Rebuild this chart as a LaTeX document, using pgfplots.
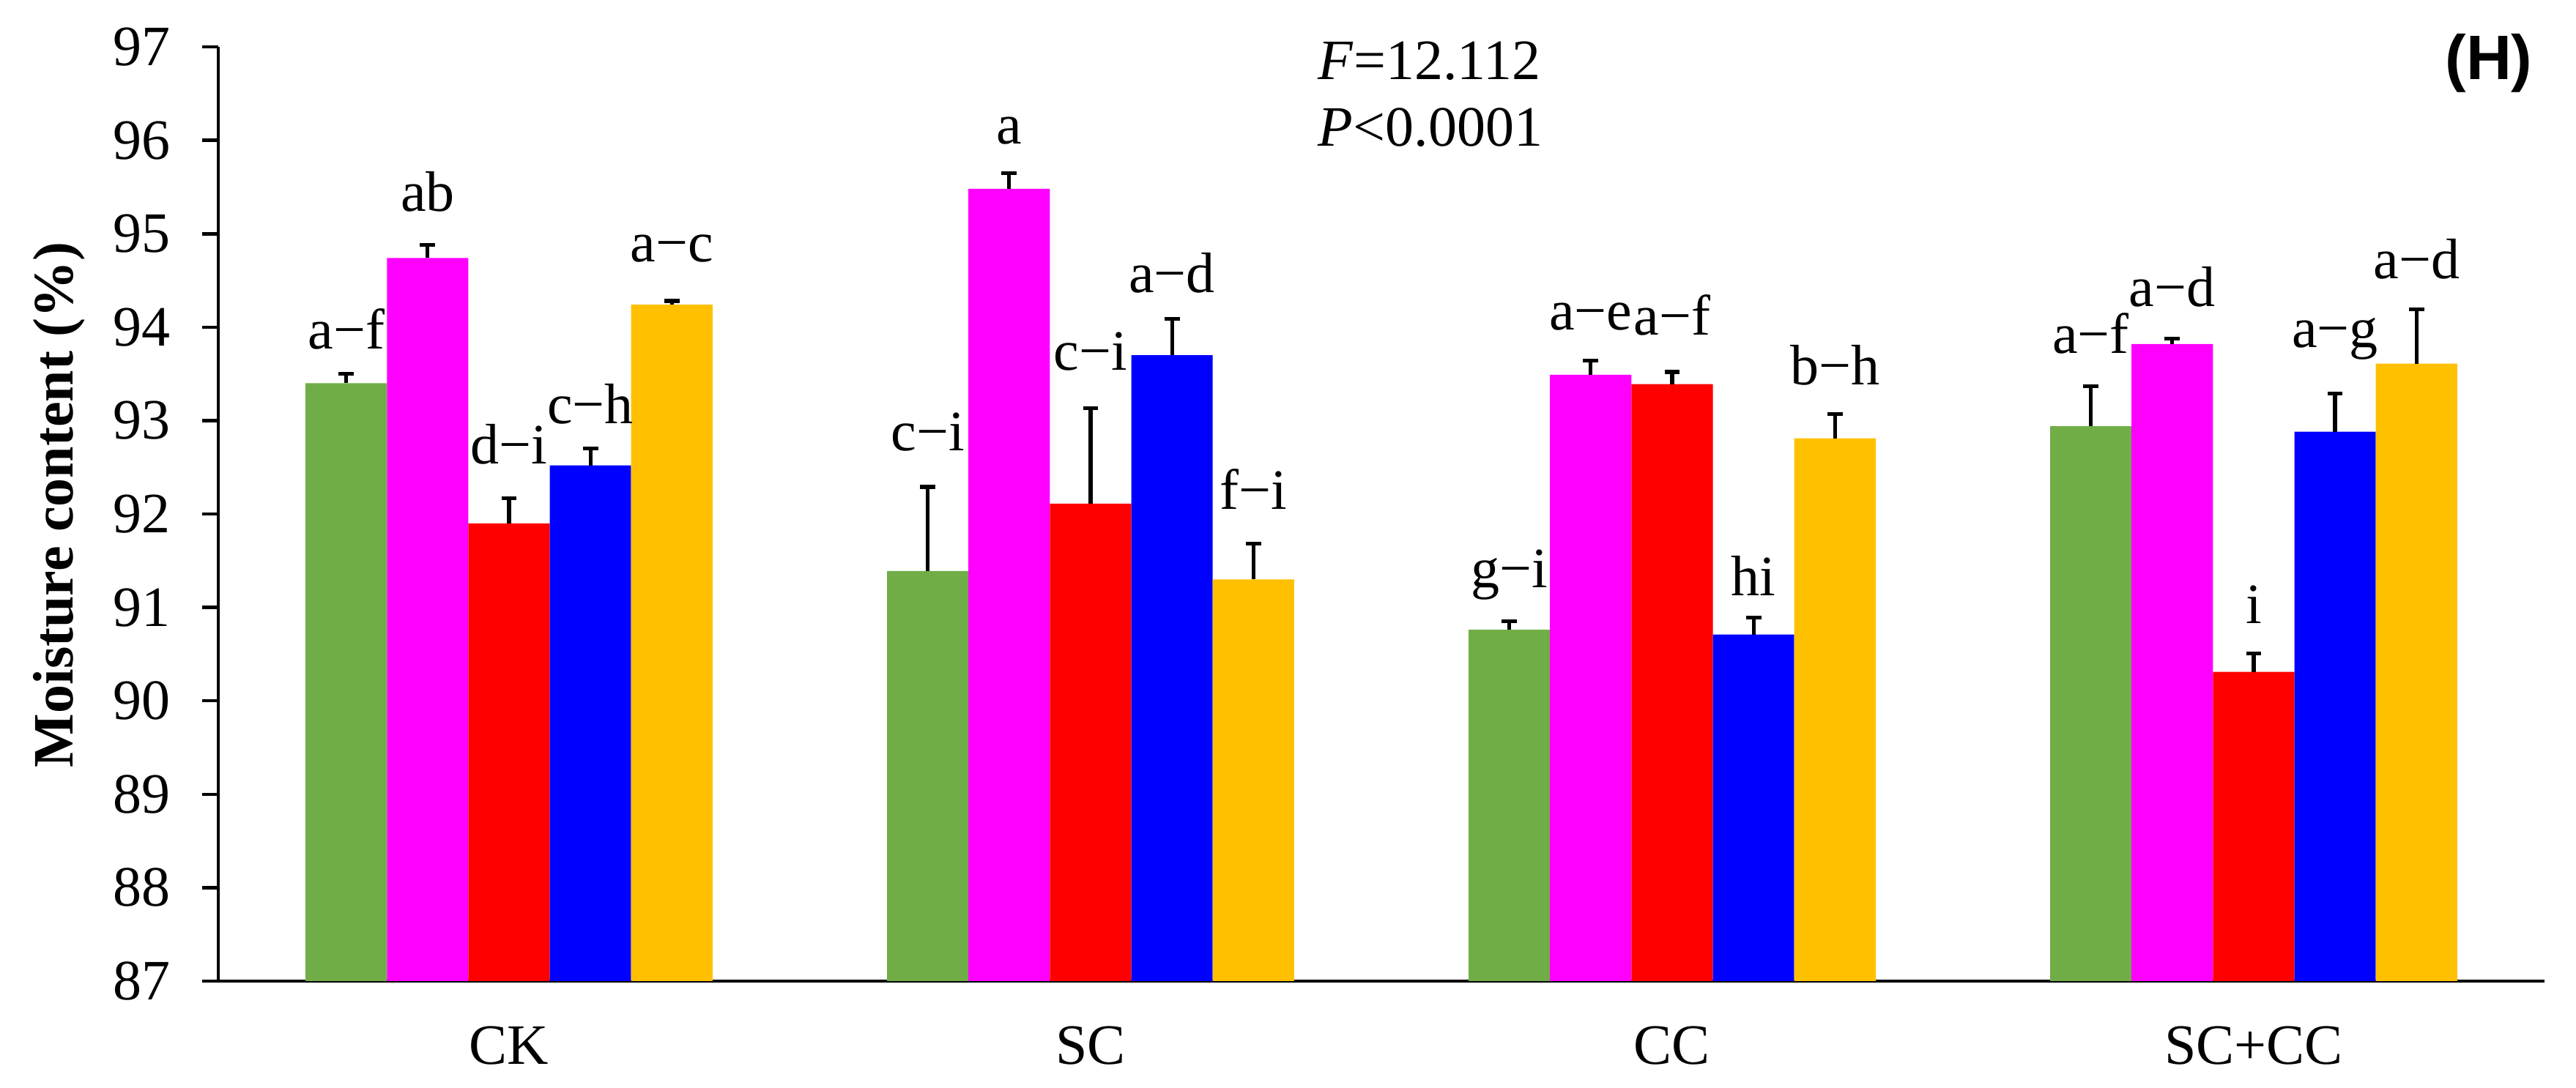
\documentclass[border=0pt]{standalone}
\usepackage{fontspec}
\setmainfont{Liberation Serif}
\newfontfamily\arial{Liberation Sans}
\usepackage{pgfplots}
\usepackage{pgfplotstable}
\pgfplotsset{compat=1.18}

\definecolor{cgreen}{HTML}{70AD47}
\definecolor{cmag}{HTML}{FF00FF}
\definecolor{cred}{HTML}{FF0000}
\definecolor{cblue}{HTML}{0000FF}
\definecolor{cyel}{HTML}{FFC000}

% x = category index + bar offset, y = mean, e = error
\pgfplotstableread{
x y e
-0.28 93.40 0.10
0.72 91.39 0.90
1.72 90.76 0.09
2.72 92.94 0.43
}\tabgreen
\pgfplotstableread{
x y e
-0.14 94.74 0.14
0.86 95.48 0.17
1.86 93.49 0.15
2.86 93.82 0.06
}\tabmag
\pgfplotstableread{
x y e
0.00 91.90 0.27
1.00 92.11 1.02
2.00 93.39 0.13
3.00 90.31 0.20
}\tabred
\pgfplotstableread{
x y e
0.14 92.52 0.18
1.14 93.70 0.39
2.14 90.71 0.18
3.14 92.88 0.41
}\tabblue
\pgfplotstableread{
x y e
0.28 94.24 0.04
1.28 91.30 0.38
2.28 92.81 0.26
3.28 93.61 0.58
}\tabyel
% letter labels: baseline position
\pgfplotstableread{
x y lab
-0.28 93.77 a−f
0.72 92.68 c−i
1.72 91.21 g−i
2.72 93.72 a−f
-0.14 95.24 ab
0.86 95.96 a
1.86 93.97 a−e
2.86 94.22 a−d
0.00 92.54 d−i
1.00 93.54 c−i
2.00 93.92 a−f
3.00 90.83 i
0.14 92.97 c−h
1.14 94.37 a−d
2.14 91.13 hi
3.14 93.78 a−g
0.28 94.70 a−c
1.28 92.05 f−i
2.28 93.38 b−h
3.28 94.52 a−d
}\letters

\begin{document}
\fontsize{12}{14.4}\selectfont
\begin{tikzpicture}
\begin{axis}[
    scale only axis,
    width=488.6pt, height=196.3pt,
    clip mode=individual,
    xmin=-0.5, xmax=3.5,
    ymin=87, ymax=97,
    axis x line=bottom, axis y line=left,
    axis line style={-, line width=0.7pt},
    xtick={0,1,2,3},
    xticklabels={CK,SC,CC,SC+CC},
    xtick style={draw=none},
    xticklabel style={anchor=base, yshift=-14.1pt},
    ytick={87,88,...,97},
    ytick pos=left,
    tick align=outside,
    major tick length=3.4pt,
    ytick style={line width=0.7pt, black},
    yticklabel style={xshift=-2.5pt},
    /pgf/number format/assume math mode=true,
    ylabel={\bfseries Moisture content (\%)},
    ylabel style={at={(axis description cs:-0.0626,0.51)}, anchor=base},
    ybar, bar width=0.14, bar shift=0pt,
    error bars/error bar style={line width=0.8pt, black},
    error bars/error mark options={rotate=90, mark size=1.6pt, line width=0.8pt, black},
]
\addplot[fill=cgreen, draw=none, error bars/.cd, y dir=plus, y explicit]
    table[x=x, y=y, y error=e]{\tabgreen};
\addplot[fill=cmag, draw=none, error bars/.cd, y dir=plus, y explicit]
    table[x=x, y=y, y error=e]{\tabmag};
\addplot[fill=cred, draw=none, error bars/.cd, y dir=plus, y explicit]
    table[x=x, y=y, y error=e]{\tabred};
\addplot[fill=cblue, draw=none, error bars/.cd, y dir=plus, y explicit]
    table[x=x, y=y, y error=e]{\tabblue};
\addplot[fill=cyel, draw=none, error bars/.cd, y dir=plus, y explicit]
    table[x=x, y=y, y error=e]{\tabyel};

\addplot[sharp plot, draw=none, mark=none, nodes near coords,
    point meta=explicit symbolic,
    every node near coord/.append style={anchor=base, inner sep=0pt, black}]
    table[x=x, y=y, meta=lab]{\letters};

\node[anchor=base west, inner sep=0pt] at (axis cs:1.39,96.65) {\textit{F}=12.112};
\node[anchor=base west, inner sep=0pt] at (axis cs:1.39,95.94) {\textit{P}<0.0001};
\node[anchor=base east, inner sep=0pt] at (axis cs:3.481,96.65)
    {\arial\fontsize{13.2}{15}\selectfont\bfseries (H)};
\end{axis}
\path (current axis.south west) ++(-45.85pt,-22.31pt) rectangle ++(541.08pt,228.46pt);
\end{tikzpicture}
\end{document}
